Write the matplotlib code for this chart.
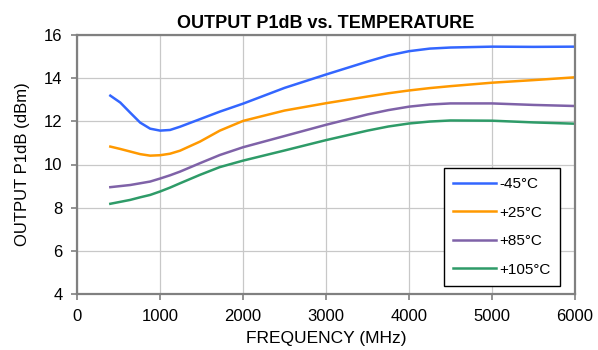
import numpy as np
import matplotlib.pyplot as plt

plt.rcParams['font.family'] = ['Liberation Sans', 'DejaVu Sans']

# frequency points (MHz) and P1dB readings (dBm)
freq = [400, 520, 640, 760, 880, 1000, 1120, 1240, 1480, 1720, 2000, 2500, 3000, 3500,
        3750, 4000, 4250, 4500, 5000, 5500, 6000]
p_m45 = [13.19, 12.87, 12.40, 11.94, 11.66, 11.57, 11.60, 11.75, 12.10, 12.45, 12.82, 13.55,
         14.17, 14.77, 15.05, 15.25, 15.37, 15.42, 15.46, 15.45, 15.46]
p_25 = [10.83, 10.72, 10.60, 10.48, 10.41, 10.43, 10.50, 10.64, 11.06, 11.57, 12.02, 12.50,
        12.84, 13.15, 13.30, 13.43, 13.54, 13.63, 13.79, 13.91, 14.04]
p_85 = [8.95, 9.00, 9.05, 9.13, 9.21, 9.35, 9.50, 9.67, 10.06, 10.44, 10.80, 11.32,
        11.84, 12.32, 12.52, 12.68, 12.78, 12.83, 12.83, 12.76, 12.71]
p_105 = [8.18, 8.27, 8.36, 8.48, 8.59, 8.75, 8.93, 9.13, 9.52, 9.88, 10.18, 10.65,
         11.13, 11.57, 11.76, 11.90, 11.99, 12.04, 12.03, 11.95, 11.89]

labels = ['-45°C', '+25°C', '+85°C', '+105°C']
colors = ['#3366ff', '#ff9900', '#7f62a8', '#2e9b68']

fig = plt.figure(figsize=(5.98, 3.5), dpi=100)
ax = fig.add_axes([0.129, 0.16, 0.8325, 0.74])

for ys, lab, c in zip([p_m45, p_25, p_85, p_105], labels, colors):
    ax.plot(freq, ys, color=c, lw=1.8, label=lab, solid_joinstyle='round')

ax.set_xlim(0, 6000)
ax.set_ylim(4, 16)
ax.set_xticks(np.arange(0, 6001, 1000))
ax.set_yticks(np.arange(4, 17, 2))
ax.grid(color='#c8c8c8', lw=0.9)
ax.set_axisbelow(True)
for s in ax.spines.values():
    s.set_color('#808080')
    s.set_linewidth(1.6)
ax.tick_params(labelsize=12, length=4.5, pad=6, color='#808080', width=1.2)

ax.set_title('OUTPUT P1dB vs. TEMPERATURE', fontsize=13, fontweight='bold', pad=5)
ax.set_xlabel('FREQUENCY (MHz)', fontsize=12.5, labelpad=5)
ax.set_ylabel('OUTPUT P1dB (dBm)', fontsize=12, labelpad=10)

leg = ax.legend(loc='lower right', bbox_to_anchor=(0.97, 0.032), borderaxespad=0,
                fontsize=11, fancybox=False, framealpha=1, edgecolor='black',
                handlelength=2.8, labelspacing=0.95, handletextpad=0.25,
                borderpad=0.6)
leg.get_frame().set_linewidth(1.0)

fig.savefig('out.png', dpi=100)
